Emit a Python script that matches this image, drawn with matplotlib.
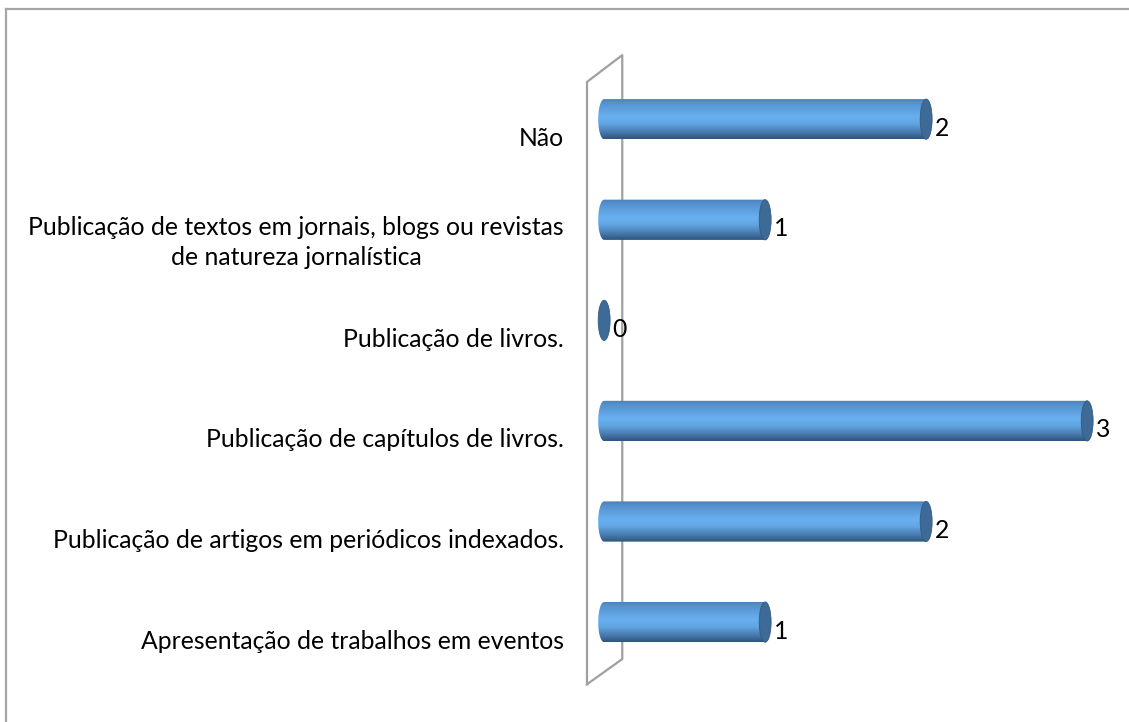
import numpy as np
import matplotlib
matplotlib.use('Agg')
from matplotlib import pyplot as plt
from matplotlib.colors import LinearSegmentedColormap
from matplotlib.patches import Ellipse, PathPatch
from matplotlib.path import Path
from matplotlib.lines import Line2D
import matplotlib.transforms as mtransforms

# Data (bottom to top)
categories = [
    'Apresentação de trabalhos em eventos',
    'Publicação de artigos em periódicos indexados.',
    'Publicação de capítulos de livros.',
    'Publicação de livros.',
    'Publicação de textos em jornais, blogs ou revistas\nde natureza jornalística',
    'Não',
]
values = [1, 2, 3, 0, 1, 2]

plt.rcParams['font.family'] = ['Lato', 'DejaVu Sans']

FS = 17.8
BAR_H = 0.4      # bar thickness in category units
CAP_A = 0.037    # half width of the end ellipse in value units

cyl_cmap = LinearSegmentedColormap.from_list('cyl', [
    (0.0, '#4C80B8'),
    (0.12, '#5592CF'),
    (0.45, '#69B0F0'),
    (0.62, '#62A6E3'),
    (0.85, '#4677AA'),
    (1.0, '#2D547C'),
])
CAP_COLOR = '#3D6A96'


def draw_cylinder(ax, y, v):
    b = BAR_H / 2
    if v > 0:
        theta = np.linspace(np.pi / 2, 3 * np.pi / 2, 40)
        xs = CAP_A * np.cos(theta)
        ys = y + b * np.sin(theta)
        verts = list(zip(xs, ys)) + [(v, y - b), (v, y + b), (xs[0], ys[0])]
        codes = [Path.MOVETO] + [Path.LINETO] * (len(verts) - 2) + [Path.CLOSEPOLY]
        clip = PathPatch(Path(verts, codes), transform=ax.transData,
                         facecolor='none', edgecolor='none')
        ax.add_patch(clip)
        grad = np.linspace(0, 1, 200).reshape(-1, 1)
        im = ax.imshow(grad, cmap=cyl_cmap, aspect='auto', origin='upper',
                       extent=(-CAP_A, v, y - b, y + b), zorder=3,
                       interpolation='bilinear')
        im.set_clip_path(clip)
    cap = Ellipse((v, y), 2 * CAP_A, BAR_H, facecolor=CAP_COLOR,
                  edgecolor='#335A80', linewidth=0.6, zorder=4)
    ax.add_patch(cap)


def main():
    fig = plt.figure(figsize=(11.29, 7.22), dpi=100)
    ax = fig.add_axes([0.518, 0.0548, 0.4806, 0.8637])
    ax.set_xlim(-0.12, 3.25)
    ax.set_ylim(-0.6, 5.6)

    ypos = np.arange(len(categories))
    for y, v in zip(ypos, values):
        draw_cylinder(ax, y, v)
        ax.text(v + CAP_A + 0.015, y - 0.09, str(v), ha='left', va='center',
                fontsize=FS, color='black', zorder=5)

    # category labels
    ax.set_yticks(ypos)
    ax.set_yticklabels(categories, fontsize=FS, ha='right', multialignment='center',
                       linespacing=1.4)
    ax.tick_params(axis='y', length=0, pad=15)
    ax.tick_params(axis='x', length=0, labelbottom=False)
    offset = mtransforms.ScaledTranslation(0, -0.17, fig.dpi_scale_trans)
    for lbl in ax.get_yticklabels():
        lbl.set_transform(lbl.get_transform() + offset)
    for s in ax.spines.values():
        s.set_visible(False)

    # back wall of the 3D plot area
    wall_x = [0.004, 0.004, 0.069, 0.069, 0.004]
    wall_y = [-0.003, 0.963, 1.006, 0.0375, -0.003]
    ax.plot(wall_x, wall_y, transform=ax.transAxes, color='#A0A0A0',
            linewidth=1.6, clip_on=False, zorder=1)

    # outer chart border (top and left visible)
    fig.add_artist(Line2D([0.0053, 0.0053], [0.0, 0.9875], color='#A6A6A6', linewidth=1.6))
    fig.add_artist(Line2D([0.0053, 1.0], [0.9875, 0.9875], color='#A6A6A6', linewidth=1.6))

    fig.savefig('out.png', dpi=100, facecolor='white')


if __name__ == '__main__':
    main()
